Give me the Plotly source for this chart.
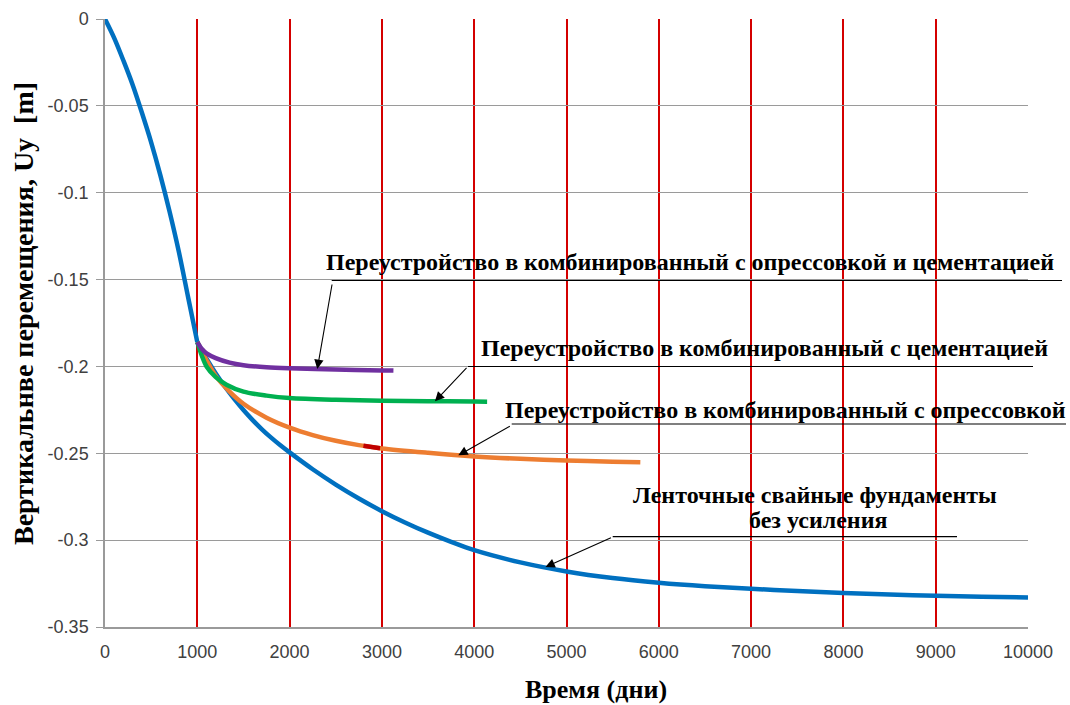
import plotly.graph_objects as go

# ---- data ----
base_x = [0, 100, 200, 300, 400, 500, 600, 700, 800, 900, 1000, 1100, 1200, 1300, 1400, 1500, 1600, 1700, 1800, 1900, 2000, 2250, 2500, 2750, 3000, 3250, 3500, 3750, 4000, 4500, 5000, 5500, 6000, 6500, 7000, 7500, 8000, 8500, 9000, 9500, 10000]
base_y = [0, -0.011, -0.024, -0.038, -0.054, -0.071, -0.09, -0.111, -0.134, -0.16, -0.186, -0.1955, -0.204, -0.2117, -0.2187, -0.2251, -0.2309, -0.2362, -0.241, -0.2454, -0.2495, -0.2592, -0.268, -0.276, -0.2833, -0.2898, -0.2957, -0.301, -0.3058, -0.3128, -0.318, -0.3218, -0.3245, -0.3265, -0.328, -0.3293, -0.3304, -0.3313, -0.332, -0.3326, -0.333]

comb_x = [1000, 1050, 1100, 1200, 1350, 1500, 1750, 2000, 2500, 3000, 3125]
comb_y = [-0.186, -0.19, -0.1925, -0.1952, -0.1978, -0.1993, -0.2005, -0.2011, -0.2018, -0.2023, -0.2024]

cem_x = [1000, 1050, 1100, 1200, 1316, 1500, 1750, 2000, 2500, 3000, 3500, 4000, 4140]
cem_y = [-0.186, -0.194, -0.2, -0.2062, -0.2105, -0.2145, -0.2168, -0.2182, -0.2192, -0.2197, -0.22, -0.2202, -0.2203]

opr_x = [1000, 1100, 1200, 1350, 1500, 1750, 2000, 2250, 2500, 2750, 3000, 3500, 4000, 4500, 5000, 5500, 5800]
opr_y = [-0.186, -0.1965, -0.2055, -0.2145, -0.2215, -0.2295, -0.2352, -0.2395, -0.2428, -0.2453, -0.2472, -0.2497, -0.2518, -0.2532, -0.2541, -0.2549, -0.2552]

red_x = [2800, 2900, 2980]
red_y = [-0.2457, -0.2465, -0.2471]

x_ticks = [0, 1000, 2000, 3000, 4000, 5000, 6000, 7000, 8000, 9000, 10000]
x_labels = ["0", "1000", "2000", "3000", "4000", "5000", "6000", "7000", "8000", "9000", "10000"]
y_ticks = [0, -0.05, -0.1, -0.15, -0.2, -0.25, -0.3, -0.35]
y_labels = ["0", "-0.05", "-0.1", "-0.15", "-0.2", "-0.25", "-0.3", "-0.35"]

label_1 = "Переустройство в комбинированный с опрессовкой и цементацией"
label_2 = "Переустройство в комбинированный с цементацией"
label_3 = "Переустройство в комбинированный с опрессовкой"
label_4a = "Ленточные свайные фундаменты"
label_4b = "без усиления"
x_title = "Время (дни)"
y_title = "Вертикальнве перемещения, Uy  [m]"

W, H = 1070, 705
L, R, T, B = 105, 42, 19, 78
PW, PH = W - L - R, H - T - B

def px(xp):
    return (xp - L) / PW

def py(yp):
    return 1 - (yp - T) / PH

fig = go.Figure()
lw = 4.5
sp = dict(shape="spline", smoothing=0.9)
k = base_x.index(1000)
# main curve drawn in two pieces so the bend at 1000 stays sharp
fig.add_trace(go.Scatter(x=base_x[:k + 1], y=base_y[:k + 1], mode="lines", line=dict(color="#0070C0", width=lw, **sp), showlegend=False))
fig.add_trace(go.Scatter(x=base_x[k:], y=base_y[k:], mode="lines", line=dict(color="#0070C0", width=lw, **sp), showlegend=False))
fig.add_trace(go.Scatter(x=opr_x, y=opr_y, mode="lines", line=dict(color="#ED7D31", width=lw, **sp), showlegend=False))
fig.add_trace(go.Scatter(x=red_x, y=red_y, mode="lines", line=dict(color="#C00000", width=lw), showlegend=False))
fig.add_trace(go.Scatter(x=cem_x, y=cem_y, mode="lines", line=dict(color="#00B050", width=lw, **sp), showlegend=False))
fig.add_trace(go.Scatter(x=comb_x, y=comb_y, mode="lines", line=dict(color="#7030A0", width=lw, **sp), showlegend=False))

serif = "Liberation Serif"
tfont = dict(family=serif, size=24, color="black")

# leader lines (paper coords)
leaders = [(331.7, 1062, 280.5), (468, 1033, 366.5), (511.7, 1066, 424), (612.7, 957, 536.7)]
for x0, x1, yy in leaders:
    fig.add_shape(type="line", xref="paper", yref="paper", x0=px(x0), x1=px(x1), y0=py(yy), y1=py(yy),
                  line=dict(color="black", width=1.2))

# arrows: tip at curve (data), tail at leader start
arrows = [(2300, -0.2015, 15, -86), (3575, -0.2201, 33, -35), (3828, -0.2512, 53, -30), (4772, -0.3155, 67, -30)]
for xt, yt, ax, ay in arrows:
    fig.add_annotation(x=xt, y=yt, xref="x", yref="y", ax=ax, ay=ay, text="", showarrow=True,
                       arrowhead=2, arrowsize=1.7, arrowwidth=1.1, arrowcolor="black")

texts = [(label_1, 690, 262), (label_2, 764, 348), (label_3, 785, 410), (label_4a, 815, 495), (label_4b, 818, 520)]
for txt, xc, yc in texts:
    fig.add_annotation(x=px(xc), y=py(yc), xref="paper", yref="paper", text="<b>" + txt + "</b>",
                       showarrow=False, xanchor="center", yanchor="middle", font=tfont, align="center")

fig.add_annotation(x=px(596), y=py(689), xref="paper", yref="paper", text="<b>" + x_title + "</b>",
                   showarrow=False, xanchor="center", yanchor="middle", font=dict(family=serif, size=26, color="black"))
fig.add_annotation(x=px(23), y=py(314), xref="paper", yref="paper", text="<b>" + y_title + "</b>",
                   showarrow=False, xanchor="center", yanchor="middle", textangle=-90,
                   font=dict(family=serif, size=28, color="black"))

tick_font = dict(family="Liberation Sans", size=18, color="#404040")
fig.update_xaxes(range=[0, 10000], tickvals=x_ticks, ticktext=x_labels, showgrid=True, gridcolor="#D40000",
                 gridwidth=2, zeroline=False, showline=True, linecolor="#9a9a9a", linewidth=1.5,
                 ticks="", tickfont=tick_font, ticklabelstandoff=8)
fig.update_yaxes(range=[-0.35, 0], tickvals=y_ticks, ticktext=y_labels, showgrid=True, gridcolor="#9a9a9a",
                 gridwidth=1.4, zeroline=False, showline=True, linecolor="#9a9a9a", linewidth=1.5,
                 ticks="outside", ticklen=7, tickcolor="#9a9a9a", tickfont=tick_font, ticklabelstandoff=4)

fig.update_layout(width=W, height=H, margin=dict(l=L, r=R, t=T, b=B, autoexpand=False), paper_bgcolor="white",
                  plot_bgcolor="white", showlegend=False)

fig.write_html("out.html", config={"displayModeBar": False},
               post_script="document.body.style.margin='0px';")
